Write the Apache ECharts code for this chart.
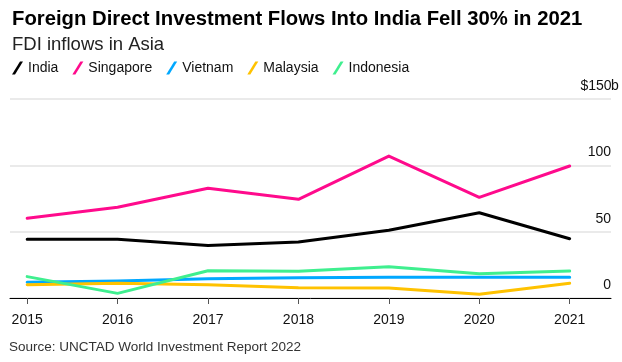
<!DOCTYPE html>
<html>
<head>
<meta charset="utf-8">
<script src="https://cdn.jsdelivr.net/npm/echarts@6/dist/echarts.min.js"></script>
<style>
html,body{margin:0;padding:0;background:#fff;}
#chart{width:622px;height:362px;}
</style>
</head>
<body>
<div id="chart"></div>
<script>
const years = [2015, 2016, 2017, 2018, 2019, 2020, 2021];
const india = [44.2, 44.2, 39.5, 42.2, 51.0, 64.3, 44.7];
const singapore = [60.1, 68.4, 82.7, 74.4, 107.0, 75.9, 99.5];
const vietnam = [11.8, 12.8, 14.6, 15.3, 15.6, 15.6, 15.6];
const malaysia = [10.0, 11.1, 10.0, 7.8, 7.5, 2.8, 11.1];
const indonesia = [16.1, 3.5, 20.6, 20.1, 23.6, 18.3, 20.4];
const yTicks = [0, 50, 100, 150];

const seriesDefs = [
  {name: 'India', data: india, color: '#000000'},
  {name: 'Singapore', data: singapore, color: '#ff0a8c'},
  {name: 'Vietnam', data: vietnam, color: '#00a8ff'},
  {name: 'Malaysia', data: malaysia, color: '#ffc200'},
  {name: 'Indonesia', data: indonesia, color: '#3fef8f'}
];

const FONT = '"Liberation Sans", Arial, sans-serif';
const chart = echarts.init(document.getElementById('chart'), null, {renderer: 'canvas'});
const slash = 'path://M0,13L8,0L11,0L3,13Z';

chart.setOption({
  animation: false,
  textStyle: {fontFamily: FONT},
  title: {
    text: 'Foreign Direct Investment Flows Into India Fell 30% in 2021',
    subtext: 'FDI inflows in Asia',
    left: 7, top: 4,
    itemGap: 6,
    textStyle: {fontFamily: FONT, fontWeight: 'bold', fontSize: 20.3, color: '#000'},
    subtextStyle: {fontFamily: FONT, fontSize: 18.5, color: '#222'}
  },
  legend: {
    left: 7, top: 56,
    itemWidth: 11, itemHeight: 13, itemGap: 14,
    textStyle: {fontFamily: FONT, fontSize: 14, color: '#111'},
    data: seriesDefs.map(s => ({name: s.name, icon: slash, itemStyle: {color: s.color}}))
  },
  graphic: [{
    type: 'text', left: 9, top: 340,
    style: {text: 'Source: UNCTAD World Investment Report 2022', font: '13.5px ' + FONT, fill: '#333'}
  }],
  grid: {left: 10, right: 11, top: 99, bottom: 64},
  xAxis: {
    type: 'value', min: 2014.81, max: 2021.457,
    splitLine: {show: false},
    axisLine: {show: true, onZero: false, lineStyle: {color: '#000', width: 1}},
    axisTick: {show: true, customValues: years, length: 6, lineStyle: {color: '#555'}},
    axisLabel: {customValues: years, formatter: v => String(v), margin: 15, fontSize: 14, color: '#111', fontFamily: FONT}
  },
  yAxis: {
    type: 'value', position: 'right', min: 0, max: 150, interval: 50,
    axisLine: {show: false}, axisTick: {show: false},
    splitLine: {lineStyle: {color: '#e3e3e3', width: 1.5}},
    axisLabel: {
      inside: true, margin: 30, align: 'left', verticalAlign: 'bottom',
      padding: [0, 0, 6, 0],
      formatter: v => v === 150 ? '{n|$150}{u|b}' : '{n|' + v + '}',
      rich: {
        n: {width: 30, align: 'right', fontSize: 14, color: '#111', fontFamily: FONT},
        u: {fontSize: 14, color: '#111', fontFamily: FONT}
      }
    }
  },
  series: seriesDefs.map(s => ({
    name: s.name, type: 'line', showSymbol: false, symbol: 'none',
    lineStyle: {width: 3, color: s.color, cap: 'round', join: 'round'},
    itemStyle: {color: s.color},
    data: years.map((y, i) => [y, s.data[i]])
  }))
});
</script>
</body>
</html>
